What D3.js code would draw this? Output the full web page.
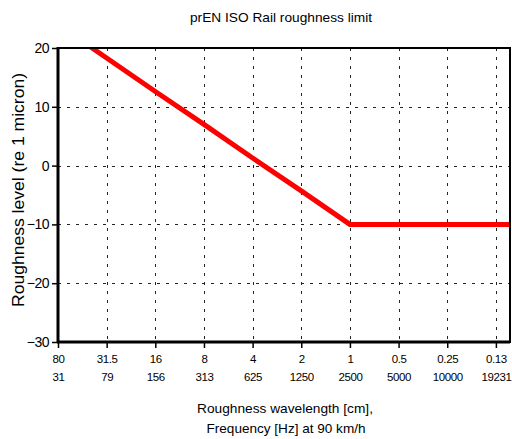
<!DOCTYPE html>
<html>
<head>
<meta charset="utf-8">
<script src="https://cdn.jsdelivr.net/npm/d3@7"></script>
<style>
  html, body { margin: 0; padding: 0; background: #fff; }
  svg { display: block; font-family: "Liberation Sans", Arial, sans-serif; }
</style>
</head>
<body>
<svg id="chart" width="512" height="439"></svg>
<script>
// ---- data ----
const wavelengths = ["80", "31.5", "16", "8", "4", "2", "1", "0.5", "0.25", "0.13"];
const frequencies = ["31", "79", "156", "313", "625", "1250", "2500", "5000", "10000", "19231"];
const limitValues = [24.0, 18.3, 12.6, 7.0, 1.3, -4.3, -10, -10, -10, -10];
const yTicks = [20, 10, 0, -10, -20, -30];
const titleText = "prEN ISO Rail roughness limit";
const yLabel = "Roughness level (re 1 micron)";
const xLabel1 = "Roughness wavelength [cm],";
const xLabel2 = "Frequency [Hz] at 90 km/h";

// ---- layout ----
const svg = d3.select("#chart");
const L = 58, R = 510, T = 48, B = 342;
const xMax = 9.29;
const x = d3.scaleLinear().domain([0, xMax]).range([L, R]);
const y = d3.scaleLinear().domain([-30, 20]).range([B, T]);

// clip
svg.append("defs").append("clipPath").attr("id", "plotclip")
  .append("rect").attr("x", L).attr("y", T).attr("width", R - L).attr("height", B - T);

// grid
const grid = svg.append("g").attr("stroke", "#222").attr("stroke-width", 1)
  .attr("stroke-dasharray", "3,6");
yTicks.filter(v => v > -30 && v < 20).forEach(v => {
  grid.append("line").attr("x1", L).attr("x2", R)
    .attr("y1", Math.round(y(v)) + 0.5).attr("y2", Math.round(y(v)) + 0.5);
});
d3.range(1, wavelengths.length).forEach(i => {
  grid.append("line").attr("y1", T).attr("y2", B)
    .attr("x1", Math.round(x(i)) + 0.5).attr("x2", Math.round(x(i)) + 0.5);
});

// red limit line
const pts = wavelengths.map((w, i) => [i, limitValues[i]]);
pts.push([xMax, limitValues[limitValues.length - 1]]);
svg.append("path")
  .attr("clip-path", "url(#plotclip)")
  .attr("d", d3.line().x(d => x(d[0])).y(d => y(d[1]))(pts))
  .attr("fill", "none").attr("stroke", "#ff0000").attr("stroke-width", 5)
  .attr("stroke-linejoin", "miter");

// frame
svg.append("rect").attr("x", L).attr("y", T).attr("width", R - L).attr("height", B - T)
  .attr("fill", "none").attr("stroke", "#000").attr("stroke-width", 2);
svg.append("line").attr("x1", L).attr("x2", L).attr("y1", T - 1).attr("y2", B + 1)
  .attr("stroke", "#000").attr("stroke-width", 3);
svg.append("line").attr("x1", L - 1).attr("x2", R).attr("y1", B).attr("y2", B)
  .attr("stroke", "#000").attr("stroke-width", 3);

// y axis ticks and labels
const yAxis = d3.axisLeft(y).tickValues(yTicks).tickSize(6).tickPadding(3);
const gy = svg.append("g").attr("transform", `translate(${L},0)`).call(yAxis);
gy.select(".domain").remove();
gy.selectAll(".tick line").attr("stroke", "#000").attr("stroke-width", 1.5);
gy.selectAll(".tick text").attr("font-size", 14).attr("fill", "#000")
  .attr("font-family", "Liberation Sans, Arial, sans-serif")
  .attr("letter-spacing", -0.5);

// x axis ticks
const xAxis = d3.axisBottom(x).tickValues(d3.range(wavelengths.length))
  .tickSize(6).tickFormat(i => wavelengths[i]).tickPadding(7);
const gx = svg.append("g").attr("transform", `translate(0,${B})`).call(xAxis);
gx.select(".domain").remove();
gx.selectAll(".tick line").attr("stroke", "#000").attr("stroke-width", 1.5);
gx.selectAll(".tick text").attr("font-size", 11.5).attr("fill", "#000")
  .attr("font-family", "Liberation Sans, Arial, sans-serif").attr("letter-spacing", -0.4);
// second row: frequencies
gx.selectAll(".tick").append("text")
  .attr("y", 39).attr("fill", "#000").attr("font-size", 11.5)
  .attr("letter-spacing", -0.4)
  .attr("text-anchor", "middle")
  .attr("font-family", "Liberation Sans, Arial, sans-serif")
  .text((d, i) => frequencies[i]);

// title
svg.append("text").attr("x", 281).attr("y", 22).attr("text-anchor", "middle")
  .attr("font-size", 13).attr("textLength", 182).attr("lengthAdjust", "spacingAndGlyphs")
  .text(titleText);

// y label
svg.append("text").attr("transform", `translate(24,190) rotate(-90)`)
  .attr("text-anchor", "middle").attr("font-size", 16)
  .attr("textLength", 234).attr("lengthAdjust", "spacingAndGlyphs")
  .text(yLabel);

// x labels
svg.append("text").attr("x", 285).attr("y", 413).attr("text-anchor", "middle")
  .attr("font-size", 13.5).attr("textLength", 176).attr("lengthAdjust", "spacingAndGlyphs")
  .text(xLabel1);
svg.append("text").attr("x", 286).attr("y", 433).attr("text-anchor", "middle")
  .attr("font-size", 13.5).attr("textLength", 159).attr("lengthAdjust", "spacingAndGlyphs")
  .text(xLabel2);
</script>
</body>
</html>
